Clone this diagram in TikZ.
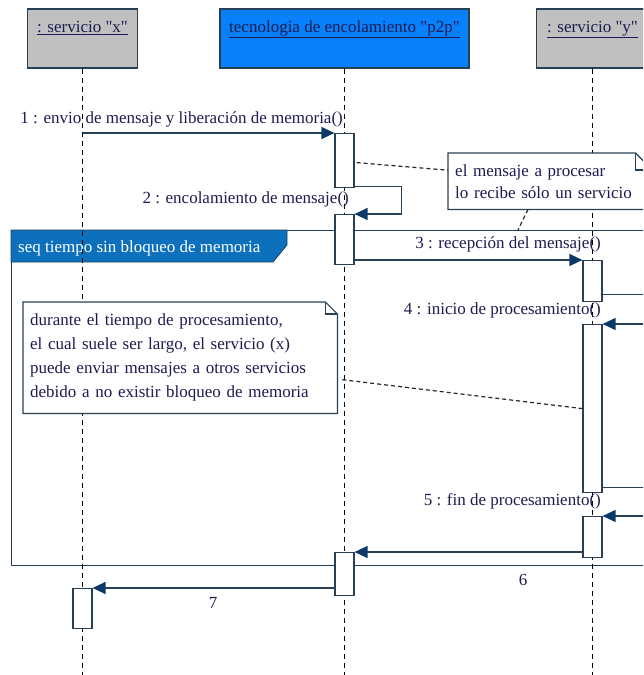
\documentclass[tikz,border=0pt]{standalone}
\usepackage{fontspec}
\setmainfont{Liberation Serif}[Ligatures=TeXOff]
\usetikzlibrary{arrows.meta,calc}

\definecolor{inkline}{RGB}{40,64,86}
\definecolor{tipblue}{RGB}{12,58,104}
\definecolor{inktext}{RGB}{28,28,80}
\definecolor{headgray}{RGB}{192,192,192}
\definecolor{headblue}{RGB}{8,128,250}
\definecolor{tabblue}{RGB}{12,112,188}

\begin{document}
\begin{tikzpicture}[x=1pt,y=-1pt,
  every node/.style={font=\fontsize{17}{22}\selectfont, text=inktext},
  headbox/.style={draw=inkline, line width=1.2pt, minimum width=#1, minimum height=59pt, inner sep=0pt},
  headlbl/.style={inner sep=0pt, anchor=base},
  lifeline/.style={draw=black, line width=1.8pt, dash pattern=on 5pt off 4pt},
  act/.style={draw=inkline, fill=white, line width=1.2pt, minimum width=19pt, minimum height=#1, inner sep=0pt, anchor=north},
  msg/.style={draw=inkline, line width=1.3pt, -{Triangle[length=13pt,width=12pt,color=tipblue]}},
  msglbl/.style={inner sep=0pt, anchor=base east},
  notetext/.style={fill=white, inner xsep=7pt, inner ysep=0pt, align=left, text width=#1, anchor=north west},
  noteline/.style={draw=inkline, line width=1.2pt, line join=miter},
  notelink/.style={draw=black!85, line width=1.2pt, dash pattern=on 4pt off 3pt},
]
\useasboundingbox (0,0) rectangle (643,675);
\clip (0,0) rectangle (643,675);
\coordinate (bottom) at (0,675);

% combined fragment "seq"
\node[draw=inkline, line width=1.2pt, minimum width=660pt, minimum height=335pt,
      inner sep=0pt, anchor=north west] (seq) at (11,230) {};
\filldraw[fill=tabblue, draw=inkline, line width=0.8pt]
  (seq.north west) -- ++(276,0) -- ++(0,15) -- ++(-14,17) -- ++(-262,0) -- cycle;
\node[anchor=base west, inner sep=0pt, text=white] (seqlbl) at (18,252)
  {seq tiempo sin bloqueo de memoria};
\coordinate (seqhook) at (518,230);

% lifeline heads
\node[headbox=110pt, fill=headgray] (hx) at (82.5,38.5) {};
\node[headbox=249pt, fill=headblue] (hp) at (344.5,38.5) {};
\node[headbox=112pt, fill=headgray] (hy) at (592.5,38.5) {};
\node[headlbl] (hxt) at ([yshift=-24pt]hx.north) {\underline{: servicio "x"}};
\node[headlbl] (hpt) at ([yshift=-24pt]hp.north) {\underline{tecnologia de encolamiento "p2p"}};
\node[headlbl] (hyt) at ([yshift=-24pt]hy.north) {\underline{: servicio "y"}};

% lifelines
\draw[lifeline] (hx.south) -- (hx.south |- bottom);
\draw[lifeline] (hp.south) -- (hp.south |- bottom);
\draw[lifeline] (hy.south) -- (hy.south |- bottom);

% notes
\node[notetext=190pt, minimum height=56pt] (n1) at (448,153)
  {el mensaje a procesar\\lo recibe sólo un servicio};
\draw[noteline] (n1.south west) -- (n1.north west) -- ([xshift=-17pt]n1.north east)
  -- ([yshift=-17pt]n1.north east) -- (n1.south east) -- cycle;
\draw[noteline] ([xshift=-17pt]n1.north east) |- ([yshift=-17pt]n1.north east);

\node[notetext=300pt, minimum height=111pt, font=\fontsize{17}{24}\selectfont] (n2) at (23,302)
  {durante el tiempo de procesamiento,\\el cual suele ser largo, el servicio (x)\\puede enviar mensajes a otros servicios\\debido a no existir bloqueo de memoria};
\draw[noteline] (n2.south west) -- (n2.north west) -- ([xshift=-12pt]n2.north east)
  -- ([yshift=-12pt]n2.north east) -- (n2.south east) -- cycle;
\draw[noteline] ([xshift=-12pt]n2.north east) |- ([yshift=-12pt]n2.north east);

% activations
\node[act=54pt]  (a1) at (344.5,133) {};
\node[act=50pt]  (a2) at (344.5,214) {};
\node[act=41pt]  (a3) at (592.5,260) {};
\node[act=168pt] (a4) at (592.5,324) {};
\node[act=41pt]  (a5) at (592.5,516) {};
\node[act=43pt]  (a6) at (344.5,552) {};
\node[act=40pt]  (a7) at (82.5,588) {};

% note links
\draw[notelink] ([xshift=2pt,yshift=-2pt]a1.east) -- ([yshift=11pt]n1.west);
\draw[notelink] ($(n1.south west)+(80,0)$) -- (seqhook);
\draw[notelink] ([xshift=5pt,yshift=-22pt]n2.east) -- (a4.west);

% messages
\draw[msg] (hx.south |- a1.north) -- (a1.north west);
\draw[msg] ([yshift=2pt]a1.south east) -- ++(47,0) |- (a2.north east);
\draw[msg] (a2.east |- a3.north) -- (a3.north west);
\draw[msg] ([yshift=8pt]a3.south east) -- ++(70,0) |- (a4.north east);
\draw[msg] ([yshift=6pt]a4.south east) -- ++(70,0) |- (a5.north east);
\draw[msg] (a5.west |- a6.north) -- (a6.north east);
\draw[msg] (a6.west |- a7.north) -- (a7.north east);

% message labels
\node[msglbl] (l1) at (343,123) {1 : envio de mensaje y liberación de memoria()};
\node[msglbl] (l2) at (349,203) {2 : encolamiento de mensaje()};
\node[msglbl] (l3) at (601,248) {3 : recepción del mensaje()};
\node[msglbl] (l4) at (601,314) {4 : inicio de procesamiento()};
\node[msglbl] (l5) at (601,505) {5 : fin de procesamiento()};
\node[inner sep=0pt, anchor=base] (l6) at (523,585) {6};
\node[inner sep=0pt, anchor=base] (l7) at (213,608) {7};
\end{tikzpicture}
\end{document}
